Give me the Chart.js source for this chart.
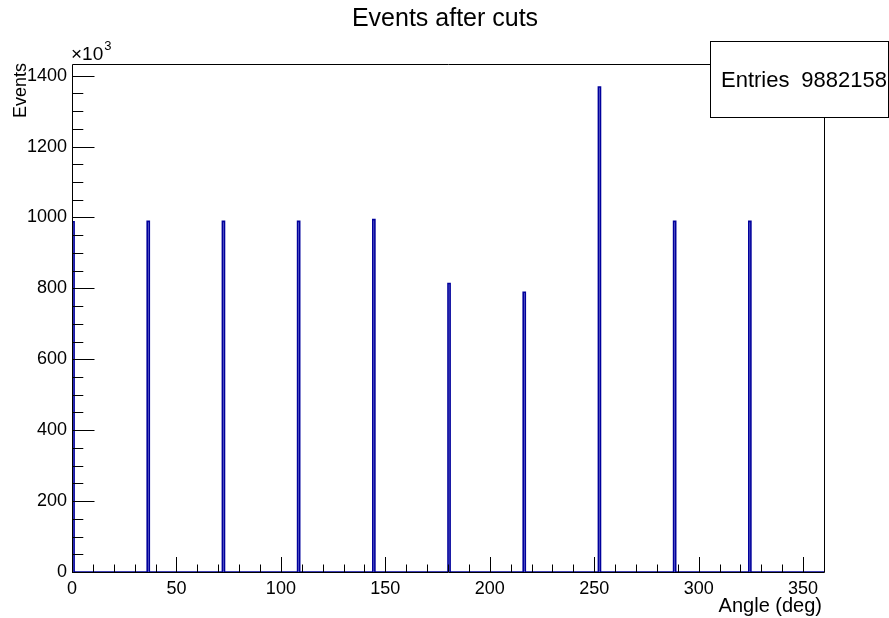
<!DOCTYPE html>
<html>
<head>
<meta charset="utf-8">
<script src="https://cdn.jsdelivr.net/npm/chart.js@4/dist/chart.umd.min.js"></script>
<style>
  html, body { margin: 0; padding: 0; background: #ffffff; }
  #wrap { width: 889px; height: 618px; position: relative; }
</style>
</head>
<body>
<div id="wrap"><canvas id="c" width="889" height="618"></canvas></div>
<script>
// Histogram of event angles: 1-degree bins, only the populated bins listed.
const binWidth = 1;                                           // deg
const binLowEdges = [0, 36, 72, 108, 144, 180, 216, 252, 288, 324]; // deg
const binCounts = [988, 989, 989, 989, 994, 814, 789, 1368, 989, 989]; // events, x10^3
const xRange = [0, 360];
const yRange = [0, 1433];
const xTickLabels = [0, 50, 100, 150, 200, 250, 300, 350];
const yTickLabels = [0, 200, 400, 600, 800, 1000, 1200, 1400];
const entries = 9882158;

// Outline of the histogram: walk along the bins, rising and falling at each edge.
const outline = [{ x: xRange[0], y: 0 }];
binLowEdges.forEach((lo, i) => {
  const hi = lo + binWidth;
  outline.push({ x: lo, y: 0 }, { x: lo, y: binCounts[i] },
               { x: hi, y: binCounts[i] }, { x: hi, y: 0 });
});
outline.push({ x: xRange[1], y: 0 });

const FONT = '"Liberation Sans", Arial, Helvetica, sans-serif';
const HIST_COLOR = '#00009c';

// Frame, inward major/minor ticks, titles and the statistics box.
const rootStyle = {
  id: 'rootStyle',
  afterDatasetsDraw(chart) {
    const { ctx, chartArea: a, scales } = chart;
    const xs = scales.x, ys = scales.y;
    ctx.save();
    ctx.strokeStyle = '#000000';
    ctx.lineWidth = 1;
    ctx.beginPath();
    ctx.rect(Math.round(a.left) + 0.5, Math.round(a.top) + 0.5,
             Math.round(a.right - a.left), Math.round(a.bottom - a.top));
    ctx.stroke();

    const xMajor = 15, xMinor = 7.5, yMajor = 22.5, yMinor = 11.3;
    ctx.beginPath();
    for (let v = xRange[0]; v <= xRange[1]; v += 10) {
      const px = Math.round(xs.getPixelForValue(v)) + 0.5;
      const len = (v % 50 === 0) ? xMajor : xMinor;
      ctx.moveTo(px, a.bottom);
      ctx.lineTo(px, a.bottom - len);
    }
    for (let v = yRange[0]; v <= yRange[1]; v += 50) {
      const py = Math.round(ys.getPixelForValue(v)) + 0.5;
      const len = (v % 200 === 0) ? yMajor : yMinor;
      ctx.moveTo(a.left, py);
      ctx.lineTo(a.left + len, py);
    }
    ctx.stroke();
    ctx.restore();
  },
  afterDraw(chart) {
    const { ctx, chartArea: a } = chart;
    ctx.save();
    ctx.fillStyle = '#000000';

    // title
    ctx.font = '25px ' + FONT;
    ctx.textAlign = 'center';
    ctx.textBaseline = 'middle';
    ctx.fillText('Events after cuts', 445, 19);

    // axis multiplier
    ctx.font = '19px ' + FONT;
    ctx.textAlign = 'left';
    ctx.textBaseline = 'alphabetic';
    ctx.fillText('\u00d710', 71, 60);
    const w = ctx.measureText('\u00d710').width;
    ctx.font = '13px ' + FONT;
    ctx.fillText('3', 71 + w + 1, 50);

    // y axis title
    ctx.font = '18px ' + FONT;
    ctx.save();
    ctx.translate(26, a.top - 1);
    ctx.rotate(-Math.PI / 2);
    ctx.textAlign = 'right';
    ctx.textBaseline = 'alphabetic';
    ctx.fillText('Events', 0, 0);
    ctx.restore();

    // x axis title
    ctx.font = '20px ' + FONT;
    ctx.textAlign = 'right';
    ctx.textBaseline = 'middle';
    ctx.fillText('Angle (deg)', 822, 606);

    // statistics box
    const bx = 710.5, by = 41.5, bw = 178, bh = 76;
    ctx.fillStyle = '#ffffff';
    ctx.fillRect(bx, by, bw, bh);
    ctx.strokeStyle = '#000000';
    ctx.lineWidth = 1;
    ctx.strokeRect(bx, by, bw, bh);
    ctx.fillStyle = '#000000';
    ctx.font = '22px ' + FONT;
    ctx.textBaseline = 'middle';
    ctx.textAlign = 'left';
    ctx.fillText('Entries', 721, 81);
    ctx.textAlign = 'right';
    ctx.fillText(String(entries), 887, 81);
    ctx.restore();
  }
};

new Chart(document.getElementById('c'), {
  type: 'line',
  data: {
    datasets: [{
      data: outline,
      borderColor: HIST_COLOR,
      backgroundColor: 'rgba(60, 60, 200, 0.55)',
      borderWidth: 1.6,
      pointRadius: 0,
      tension: 0,
      fill: 'origin'
    }]
  },
  options: {
    responsive: false,
    animation: false,
    devicePixelRatio: 1,
    layout: { padding: { top: 64, right: 65, left: 0, bottom: 0 } },
    plugins: { legend: { display: false }, tooltip: { enabled: false }, title: { display: false } },
    scales: {
      x: {
        type: 'linear',
        min: xRange[0], max: xRange[1],
        grid: { display: false, drawTicks: false },
        border: { display: false },
        afterFit(s) { s.height = 46; },
        afterBuildTicks(s) { s.ticks = xTickLabels.map(v => ({ value: v })); },
        ticks: {
          color: '#000000', padding: 6, maxRotation: 0, autoSkip: false,
          font: { family: FONT, size: 18 },
          callback: v => String(v)
        }
      },
      y: {
        type: 'linear',
        min: yRange[0], max: yRange[1],
        grid: { display: false, drawTicks: false },
        border: { display: false },
        afterFit(s) { s.width = 72; },
        afterBuildTicks(s) { s.ticks = yTickLabels.map(v => ({ value: v })); },
        ticks: {
          color: '#000000', padding: 5, autoSkip: false,
          font: { family: FONT, size: 18 },
          callback: v => String(v)
        }
      }
    }
  },
  plugins: [rootStyle]
});
</script>
</body>
</html>
